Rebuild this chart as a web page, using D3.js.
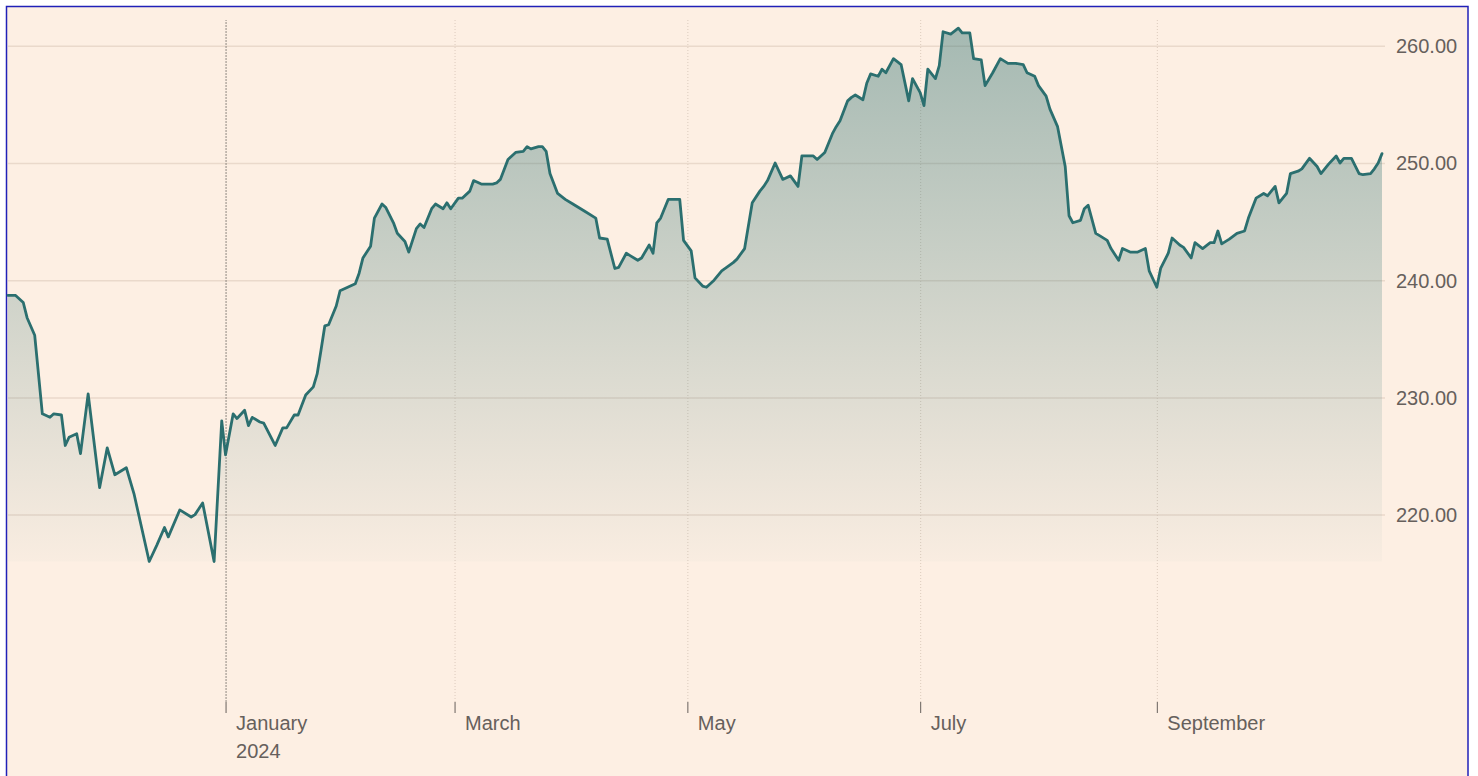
<!DOCTYPE html>
<html>
<head>
<meta charset="utf-8">
<script src="https://cdn.jsdelivr.net/npm/d3@7/dist/d3.min.js"></script>
<style>
  body { margin: 0; background: #fff; }
</style>
</head>
<body>
<div class="price-chart"></div>
<script>
"use strict";

const dates = [
  "2023-11-05","2023-11-07","2023-11-09","2023-11-10","2023-11-12","2023-11-14","2023-11-16","2023-11-17","2023-11-19","2023-11-20",
  "2023-11-21","2023-11-23","2023-11-24","2023-11-26","2023-11-29","2023-12-01","2023-12-03","2023-12-06","2023-12-08","2023-12-10",
  "2023-12-12","2023-12-14","2023-12-16","2023-12-17","2023-12-20","2023-12-23","2023-12-24","2023-12-26","2023-12-29","2023-12-31",
  "2024-01-01","2024-01-03","2024-01-04","2024-01-06","2024-01-07","2024-01-08","2024-01-10","2024-01-11","2024-01-14","2024-01-16",
  "2024-01-17","2024-01-19","2024-01-20","2024-01-22","2024-01-24","2024-01-25","2024-01-26","2024-01-27","2024-01-28","2024-01-30",
  "2024-01-31","2024-02-02","2024-02-04","2024-02-05","2024-02-06","2024-02-08","2024-02-09","2024-02-11","2024-02-12","2024-02-14",
  "2024-02-15","2024-02-17","2024-02-18","2024-02-20","2024-02-21","2024-02-22","2024-02-24","2024-02-25","2024-02-27","2024-02-28",
  "2024-02-29","2024-03-02","2024-03-03","2024-03-05","2024-03-06","2024-03-08","2024-03-09","2024-03-11","2024-03-12","2024-03-13",
  "2024-03-15","2024-03-16","2024-03-17","2024-03-19","2024-03-20","2024-03-21","2024-03-23","2024-03-24","2024-03-25","2024-03-26",
  "2024-03-28","2024-03-30","2024-04-01","2024-04-04","2024-04-07","2024-04-08","2024-04-10","2024-04-12","2024-04-13","2024-04-15",
  "2024-04-16","2024-04-18","2024-04-19","2024-04-21","2024-04-22","2024-04-23","2024-04-24","2024-04-26","2024-04-27","2024-04-29",
  "2024-04-30","2024-05-02","2024-05-03","2024-05-05","2024-05-06","2024-05-08","2024-05-10","2024-05-13","2024-05-14","2024-05-16",
  "2024-05-18","2024-05-20","2024-05-21","2024-05-22","2024-05-24","2024-05-26","2024-05-28","2024-05-30","2024-05-31","2024-06-01",
  "2024-06-03","2024-06-04","2024-06-06","2024-06-08","2024-06-09","2024-06-10","2024-06-12","2024-06-13","2024-06-14","2024-06-16",
  "2024-06-17","2024-06-18","2024-06-20","2024-06-21","2024-06-22","2024-06-24","2024-06-26","2024-06-28","2024-06-29","2024-07-01",
  "2024-07-02","2024-07-03","2024-07-05","2024-07-06","2024-07-07","2024-07-09","2024-07-11","2024-07-12","2024-07-14","2024-07-15",
  "2024-07-17","2024-07-18","2024-07-20","2024-07-22","2024-07-24","2024-07-26","2024-07-28","2024-07-29","2024-07-31","2024-08-01",
  "2024-08-03","2024-08-04","2024-08-06","2024-08-08","2024-08-09","2024-08-10","2024-08-12","2024-08-13","2024-08-14","2024-08-16",
  "2024-08-17","2024-08-19","2024-08-20","2024-08-22","2024-08-23","2024-08-25","2024-08-27","2024-08-29","2024-08-30","2024-09-01",
  "2024-09-02","2024-09-04","2024-09-05","2024-09-07","2024-09-08","2024-09-10","2024-09-11","2024-09-13","2024-09-15","2024-09-16",
  "2024-09-17","2024-09-18","2024-09-20","2024-09-22","2024-09-24","2024-09-25","2024-09-27","2024-09-29","2024-09-30","2024-10-02",
  "2024-10-03","2024-10-05","2024-10-06","2024-10-08","2024-10-09","2024-10-11","2024-10-13","2024-10-14","2024-10-16","2024-10-18",
  "2024-10-19","2024-10-20","2024-10-22","2024-10-24","2024-10-25","2024-10-27","2024-10-28","2024-10-29","2024-10-30"
];

const values = [
  238.7,238.7,238.1,236.8,235.3,228.6,228.3,228.6,228.5,225.9,
  226.6,226.9,225.2,230.3,222.3,225.7,223.4,224.0,221.8,218.9,
  216.0,217.4,218.9,218.1,220.4,219.8,220.0,221.0,216.0,228.0,
  225.1,228.6,228.2,228.9,227.6,228.3,227.9,227.8,225.9,227.4,
  227.4,228.5,228.5,230.2,230.9,232.0,234.0,236.1,236.2,237.8,
  239.1,239.4,239.7,240.6,241.9,242.9,245.3,246.5,246.2,244.9,
  244.0,243.3,242.4,244.4,244.8,244.5,246.1,246.5,246.1,246.6,
  246.1,247.0,247.0,247.6,248.5,248.2,248.2,248.2,248.3,248.6,
  250.3,250.6,250.9,251.0,251.4,251.2,251.4,251.4,251.0,249.1,
  247.4,246.9,246.5,245.9,245.3,243.6,243.5,241.0,241.1,242.3,
  242.1,241.7,241.9,243.0,242.3,244.9,245.3,246.9,246.9,246.9,
  243.4,242.5,240.2,239.5,239.4,240.0,240.8,241.5,241.8,242.7,
  246.6,247.6,248.0,248.5,250.0,248.6,248.9,248.0,250.6,250.6,
  250.6,250.3,250.9,252.5,253.1,253.6,255.3,255.6,255.8,255.4,
  256.8,257.6,257.4,258.0,257.7,258.9,258.4,255.3,257.2,256.0,
  254.9,258.0,257.2,258.3,261.2,261.0,261.5,261.1,261.1,258.9,
  258.8,256.6,257.7,258.9,258.5,258.5,258.4,257.7,257.4,256.6,
  255.7,254.6,253.1,249.7,245.5,244.9,245.1,246.1,246.4,244.0,
  243.8,243.4,242.7,241.7,242.7,242.4,242.4,242.7,240.8,239.4,
  241.0,242.3,243.6,243.0,242.8,241.9,243.2,242.7,243.2,243.2,
  244.2,243.1,243.5,244.0,244.2,245.3,247.0,247.4,247.2,248.0,
  246.6,247.4,249.1,249.3,249.5,250.4,249.7,249.1,249.9,250.6,
  250.0,250.4,250.4,249.1,249.0,249.1,249.5,250.0,250.8
];

const yTicks = [220, 230, 240, 250, 260];
const monthNames = ["January","February","March","April","May","June","July","August","September","October","November","December"];

const parse = d3.timeParse("%Y-%m-%d");
const data = dates.map((d, i) => ({ date: parse(d), value: values[i] }));

const width = 1478;
const height = 776;
const plot = { left: 8, right: 1382, top: 20, bottom: 712, gridEnd: 1385 };
const ink = "#66605c";
const teal = "#2b6f6f";

const svg = d3
  .select(".price-chart")
  .append("svg")
  .attr("width", width)
  .attr("height", height)
  .style("display", "block")
  .style("font-family", "'Liberation Sans', Arial, sans-serif");

// panel with the blue frame
svg
  .append("rect")
  .attr("x", 6.5)
  .attr("y", 6.5)
  .attr("width", 1461.5)
  .attr("height", 800)
  .attr("fill", "#fdefe3")
  .attr("stroke", "#2020b8")
  .attr("stroke-width", 1.5);

const x = d3
  .scaleTime()
  .domain(d3.extent(data, (d) => d.date))
  .range([plot.left, plot.right]);

const y = d3
  .scaleLinear()
  .domain([203.16, 262.2])
  .range([plot.bottom, plot.top]);

// horizontal grid + right labels
const yAxis = d3
  .axisRight(y)
  .tickValues(yTicks)
  .tickFormat(d3.format(".2f"))
  .tickSize(-(plot.gridEnd - plot.left))
  .tickPadding(11);

const yGroup = svg
  .append("g")
  .attr("class", "axis y-axis")
  .attr("transform", `translate(${plot.gridEnd}, 0)`)
  .call(yAxis)
  .call((g) => g.select(".domain").remove());

yGroup.selectAll(".tick line").attr("stroke", "#ead9cb").attr("stroke-width", 1.5);
yGroup
  .selectAll(".tick text")
  .attr("fill", ink)
  .attr("font-size", "20px")
  .attr("dy", "0.35em");

// month axis
const xAxis = d3
  .axisBottom(x)
  .ticks(d3.timeMonth.every(2))
  .tickSize(11)
  .tickFormat((d) => monthNames[d.getMonth()]);

const xGroup = svg
  .append("g")
  .attr("class", "axis x-axis")
  .attr("transform", `translate(0, ${plot.bottom - 10})`)
  .call(xAxis)
  .call((g) => g.select(".domain").remove());

xGroup.selectAll(".tick line").attr("stroke", ink).attr("stroke-width", 1);

xGroup
  .selectAll(".tick")
  .append("line")
  .attr("y1", 0)
  .attr("y2", -(plot.bottom - 10 - plot.top))
  .attr("stroke", (d) => (d.getMonth() === 0 ? "#8f8780" : "#dccbbd"))
  .attr("stroke-width", 1)
  .attr("stroke-dasharray", (d) => (d.getMonth() === 0 ? "2,1" : "1,2"));

xGroup
  .selectAll(".tick text")
  .attr("fill", ink)
  .attr("font-size", "20px")
  .attr("text-anchor", "start")
  .attr("x", 10)
  .attr("y", 28)
  .attr("dy", null)
  .each(function (d) {
    if (d.getMonth() === 0) {
      d3.select(this)
        .append("tspan")
        .attr("x", 10)
        .attr("dy", 28)
        .text(d.getFullYear());
    }
  });

// area under the line
const grad = svg
  .append("defs")
  .append("linearGradient")
  .attr("id", "fade")
  .attr("gradientUnits", "userSpaceOnUse")
  .attr("x1", 0)
  .attr("x2", 0)
  .attr("y1", y(d3.max(values)))
  .attr("y2", y(d3.min(values)));

grad.append("stop").attr("offset", 0).attr("stop-color", teal).attr("stop-opacity", 0.42);
grad.append("stop").attr("offset", 1).attr("stop-color", teal).attr("stop-opacity", 0.02);

const area = d3
  .area()
  .x((d) => x(d.date))
  .y0(y(d3.min(values)))
  .y1((d) => y(d.value));

svg.append("path").datum(data).attr("fill", "url(#fade)").attr("d", area);

const priceLine = d3
  .line()
  .x((d) => x(d.date))
  .y((d) => y(d.value));

svg
  .append("path")
  .datum(data)
  .attr("fill", "none")
  .attr("stroke", teal)
  .attr("stroke-width", 2.8)
  .attr("stroke-linejoin", "round")
  .attr("stroke-linecap", "round")
  .attr("d", priceLine);
</script>
</body>
</html>
